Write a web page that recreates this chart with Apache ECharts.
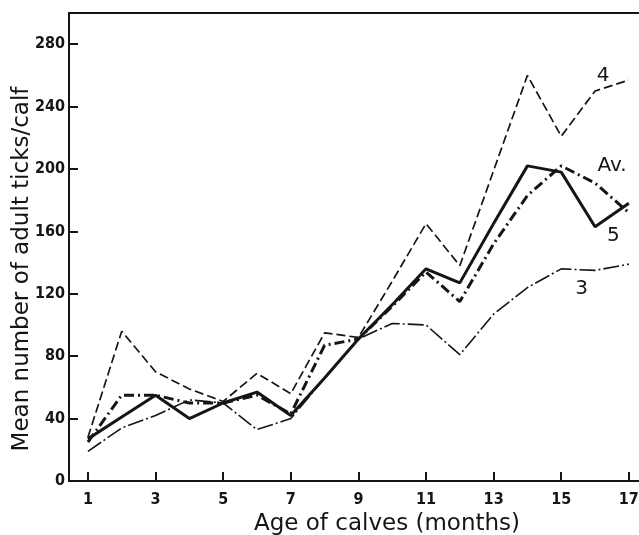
<!DOCTYPE html>
<html>
<head>
<meta charset="utf-8">
<script src="https://cdn.jsdelivr.net/npm/echarts@6/dist/echarts.min.js"></script>
<style>html,body{margin:0;padding:0;background:#fff;}#c{width:639px;height:535px;}</style>
</head>
<body>
<div id="c"></div>
<script>
var months = [1,2,3,4,5,6,7,8,9,10,11,12,13,14,15,16,17];
var calf3 = [19,34,42,52,50,33,40,66,91,101,100,81,107,124,136,135,139];
var calf4 = [28,96,70,59,51,69,56,95,92,128,165,138,199,260,221,250,257];
var calf5 = [27,41,55,40,50,57,42,66,91,113,136,127,165,202,198,163,178];
var average = [25,55,55,50,50,55,43,87,91,112,134,115,152,183,202,191,172];
var xTickValues = [1,3,5,7,9,11,13,15,17];
var yTickValues = [0,40,80,120,160,200,240,280];
var tagTexts = ['4','Av.','5','3'];
var tagMonths = [16.24,16.5,16.54,15.6];
var tagValues = [260,202,157,123.5];

function pairs(ys){ return months.map(function(m,i){ return [m, ys[i]]; }); }

var tickFont = '"DejaVu Sans Condensed","Liberation Sans Narrow","DejaVu Sans",sans-serif';
var titleFont = '"DejaVu Sans","Liberation Sans",sans-serif';
var ink = '#151515';

var chart = echarts.init(document.getElementById('c'), null, {renderer:'canvas'});
chart.setOption({
  animation:false,
  backgroundColor:'#fff',
  grid:{left:69, right:0, top:13, bottom:54, containLabel:false, outerBoundsMode:'none'},
  xAxis:[{
    type:'value', min:0.44, max:17.3,
    axisLine:{show:true, lineStyle:{color:ink, width:2}},
    axisTick:{show:true, inside:true, length:9, customValues:xTickValues, lineStyle:{color:ink, width:2}},
    axisLabel:{customValues:xTickValues, fontSize:16, fontWeight:'bold', fontFamily:tickFont, color:ink, margin:11},
    splitLine:{show:false},
    name:'Age of calves (months)', nameLocation:'middle', nameGap:32, nameMoveOverlap:false,
    nameTextStyle:{fontSize:23, fontFamily:titleFont, color:ink, padding:[0,0,0,66]}
  },{
    type:'value', position:'top', min:0.44, max:17.3,
    axisLine:{show:true, lineStyle:{color:ink, width:2}},
    axisTick:{show:false}, axisLabel:{show:false}, splitLine:{show:false}
  }],
  yAxis:{
    type:'value', min:0, max:300,
    axisLine:{show:true, lineStyle:{color:ink, width:2}},
    axisTick:{show:true, inside:true, length:9, customValues:yTickValues, lineStyle:{color:ink, width:2}},
    axisLabel:{customValues:yTickValues, fontSize:16, fontWeight:'bold', fontFamily:tickFont, color:ink, margin:4},
    splitLine:{show:false},
    name:'Mean number of adult ticks/calf', nameLocation:'middle', nameGap:35, nameMoveOverlap:false,
    nameTextStyle:{fontSize:23, fontFamily:titleFont, color:ink, padding:[0,44,0,0]}
  },
  series:[
    {name:'3', type:'line', data:pairs(calf3), symbol:'none', lineStyle:{color:ink, width:1.6, type:[16,3,2,3]}},
    {name:'4', type:'line', data:pairs(calf4), symbol:'none', lineStyle:{color:ink, width:1.7, type:[9,4]}},
    {name:'5', type:'line', data:pairs(calf5), symbol:'none', lineStyle:{color:ink, width:3}},
    {name:'Av.', type:'line', data:pairs(average), symbol:'none', lineStyle:{color:ink, width:3, type:[10,4,2,4]}},
    {name:'tags', type:'scatter', symbolSize:0, silent:true,
     data:tagTexts.map(function(t,i){ return {value:[tagMonths[i], tagValues[i]], name:t}; }),
     label:{show:true, position:'inside', formatter:function(p){return p.name;}, fontSize:20, fontFamily:titleFont, color:ink, opacity:1}}
  ]
});
</script>
</body>
</html>
